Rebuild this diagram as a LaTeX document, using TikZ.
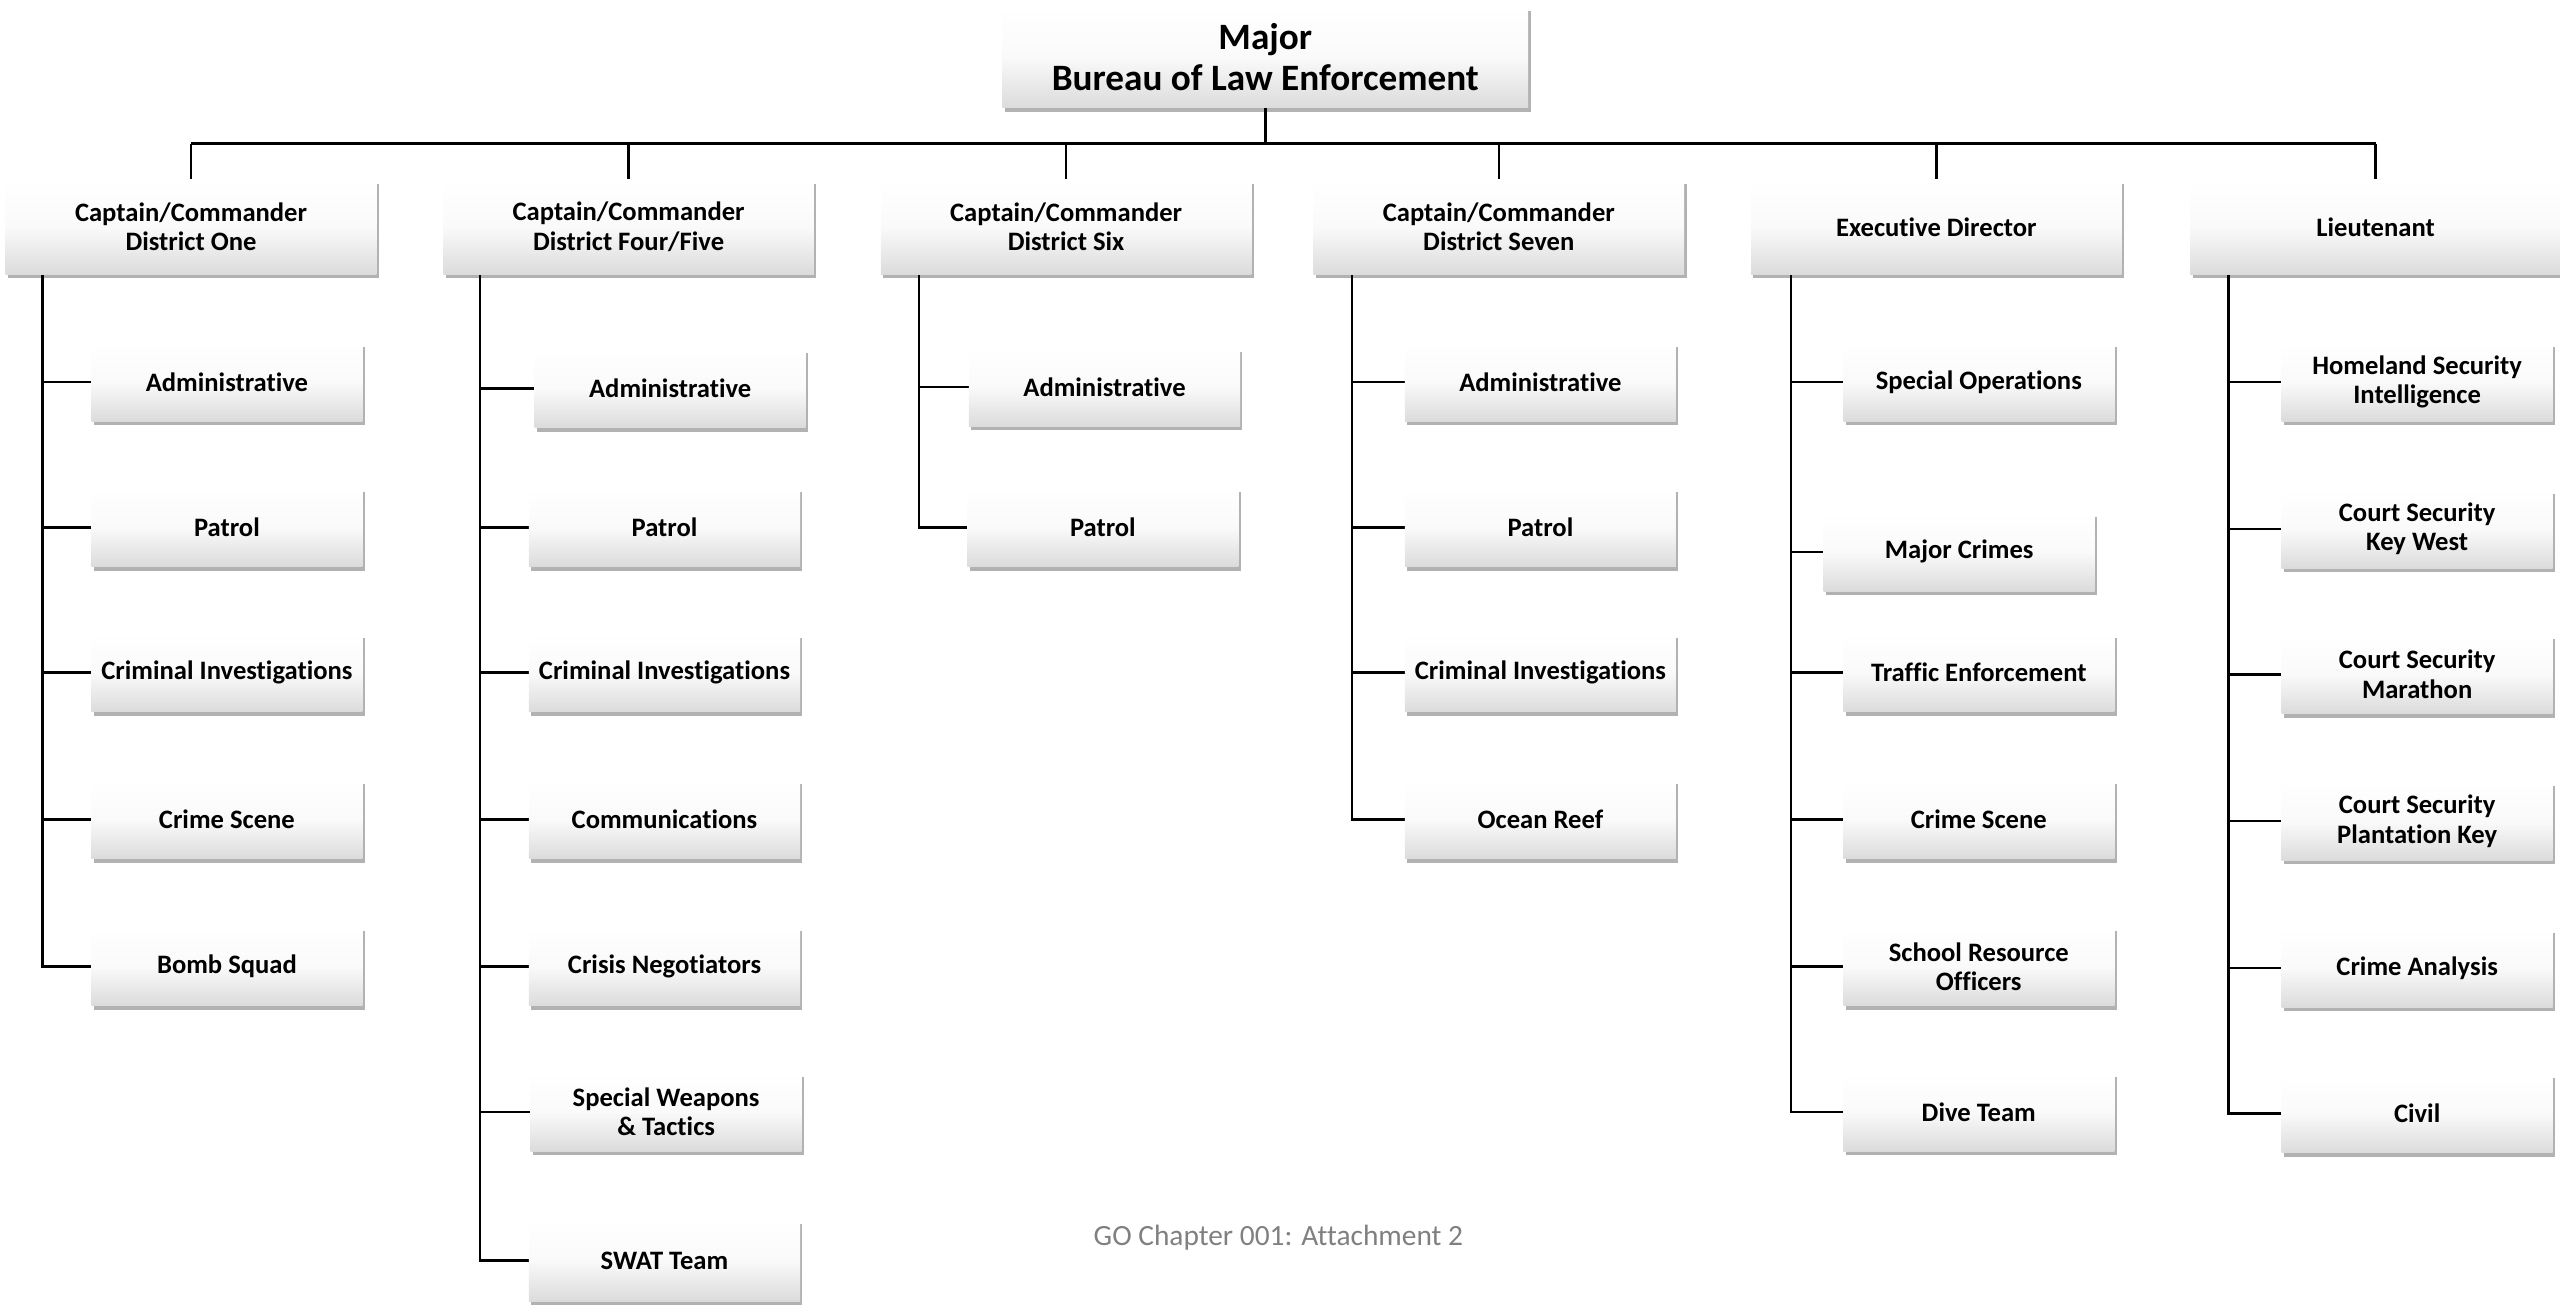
\documentclass[tikz,border=0pt]{standalone}
\usepackage{fontspec}
\setmainfont[Ligatures=NoCommon]{Carlito}
\usetikzlibrary{shadows,backgrounds}
\begin{document}
\begin{tikzpicture}[x=1pt,y=-1pt,
  box/.style={shape=rectangle, draw=none, top color=white, bottom color=black!14, middle color=black!2,
    drop shadow={shadow xshift=1.5pt, shadow yshift=-2.5pt, opacity=0.3, fill=black},
    align=center, inner sep=2pt, font=\fontsize{16.3}{18}\selectfont\bfseries},
  topbox/.style={box, minimum width=322pt, minimum height=62pt, font=\fontsize{22.8}{25}\selectfont\bfseries},
  lvl/.style={box, minimum width=227pt, minimum height=58pt},
  sub/.style={box, minimum width=166pt, minimum height=48pt},
  link/.style={line width=1.5pt, black}]
\useasboundingbox (0,0) rectangle (1568,799);

\node[topbox] (top) at (775,35) {Major\\Bureau of Law Enforcement};

\node[lvl] (c1) at (117,139) {Captain/Commander\\District One};
\node[lvl] (c2) at (385,139) {Captain/Commander\\District Four/Five};
\node[lvl] (c3) at (653,139) {Captain/Commander\\District Six};
\node[lvl] (c4) at (918,139) {Captain/Commander\\District Seven};
\node[lvl] (c5) at (1186,139) {Executive Director};
\node[lvl] (c6) at (1455,139) {Lieutenant};

% column 1
\node[sub] (a1) at (139,234) {Administrative};
\node[sub] (a2) at (139,323) {Patrol};
\node[sub] (a3) at (139,412) {Criminal Investigations};
\node[sub] (a4) at (139,502) {Crime Scene};
\node[sub] (a5) at (139,592) {Bomb Squad};
% column 2
\node[sub] (b1) at (410.5,238) {Administrative};
\node[sub] (b2) at (407,323) {Patrol};
\node[sub] (b3) at (407,412) {Criminal Investigations};
\node[sub] (b4) at (407,502) {Communications};
\node[sub] (b5) at (407,592) {Crisis Negotiators};
\node[sub] (b6) at (408,681) {Special Weapons\\\& Tactics};
\node[sub, minimum height=50pt] (b7) at (407,772) {SWAT Team};
% column 3
\node[sub] (d1) at (676.5,237) {Administrative};
\node[sub] (d2) at (675.5,323) {Patrol};
% column 4
\node[sub] (e1) at (943.5,234) {Administrative};
\node[sub] (e2) at (943.5,323) {Patrol};
\node[sub] (e3) at (943.5,412) {Criminal Investigations};
\node[sub] (e4) at (943.5,502) {Ocean Reef};
% column 5
\node[sub] (f1) at (1212,234) {Special Operations};
\node[sub] (f2) at (1200,338) {Major Crimes};
\node[sub] (f3) at (1212,412) {Traffic Enforcement};
\node[sub] (f4) at (1212,502) {Crime Scene};
\node[sub] (f5) at (1212,592) {School Resource\\Officers};
\node[sub] (f6) at (1212,681) {Dive Team};
% column 6
\node[sub] (g1) at (1480.5,234) {Homeland Security\\Intelligence};
\node[sub] (g2) at (1480.5,324) {Court Security\\Key West};
\node[sub] (g3) at (1480.5,413) {Court Security\\Marathon};
\node[sub] (g4) at (1480.5,503) {Court Security\\Plantation Key};
\node[sub] (g5) at (1480.5,593) {Crime Analysis};
\node[sub] (g6) at (1480.5,682) {Civil};

\node[font=\fontsize{18}{20}\selectfont, text=black!50] (foot) at (783,758) {GO Chapter 001: Attachment 2};

\begin{pgfonlayer}{background}
\coordinate (bus) at (775,88);
\draw[link] (top.south) -- (top.south |- bus);
\draw[link] (c1.north |- bus) -- (c6.north |- bus);
\foreach \c in {c1,c2,c3,c4,c5,c6} \draw[link] (\c.north |- bus) -- (\c.north);

\coordinate (s1) at (26,168);
\coordinate (s2) at (294,168);
\coordinate (s3) at (563,168);
\coordinate (s4) at (828,168);
\coordinate (s5) at (1097,168);
\coordinate (s6) at (1365,168);
\foreach \n in {a1,a2,a3,a4,a5} \draw[link] (s1) |- (\n.west);
\foreach \n in {b1,b2,b3,b4,b5,b6,b7} \draw[link] (s2) |- (\n.west);
\foreach \n in {d1,d2} \draw[link] (s3) |- (\n.west);
\foreach \n in {e1,e2,e3,e4} \draw[link] (s4) |- (\n.west);
\foreach \n in {f1,f2,f3,f4,f5,f6} \draw[link] (s5) |- (\n.west);
\foreach \n in {g1,g2,g3,g4,g5,g6} \draw[link] (s6) |- (\n.west);
\end{pgfonlayer}
\end{tikzpicture}
\end{document}
